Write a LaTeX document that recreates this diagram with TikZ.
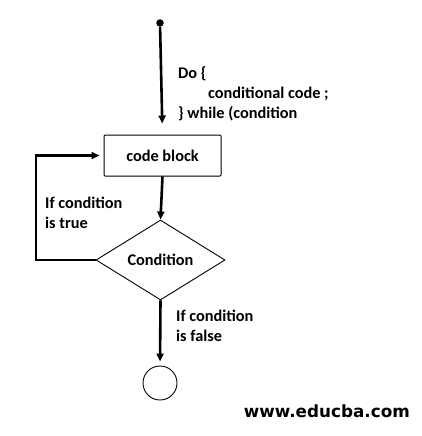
\documentclass[tikz,border=0pt]{standalone}
\usepackage{fontspec}
\setmainfont{Carlito}
\newfontfamily\urlfont{DejaVu Sans}
\usetikzlibrary{shapes.geometric,arrows.meta}
\tikzset{
    flow/.style = {draw=black, line width=2.6pt, -{Triangle[length=8pt,width=7pt]}},
    start-dot/.style = {circle, fill=black, inner sep=0pt, minimum size=7.5pt},
    code-box/.style = {draw=black, line width=1pt, rectangle, rounded corners=1pt, minimum width=117pt, minimum height=41pt, font=\fontsize{16.3}{20}\selectfont\bfseries},
    decision/.style = {draw=black, line width=0.9pt, diamond, inner sep=0pt, minimum width=129pt, minimum height=80pt, font=\fontsize{16.3}{20}\selectfont\bfseries},
    end-circle/.style = {draw=black, line width=0.9pt, circle, inner sep=0pt, minimum size=34pt},
    note/.style = {anchor=north west, inner sep=0pt, align=left, font=\fontsize{16.3}{20}\selectfont\bfseries},
}
\begin{document}
\begin{tikzpicture}[x=1pt,y=-1pt]
\useasboundingbox (0,0) rectangle (422,436);
\node[start-dot] (start) at (160,23) {};
\node[code-box] (code) at (162.5,155.5) {code block};
\node[decision] (cond) at (160.5,260) {Condition};
\node[end-circle] (stop) at (160,383) {};
\coordinate (loop) at (36,260);
% labels
\node[note] (dolabel) at (178,66) {Do \{\\\hspace*{30pt}conditional code ;\\\} while (condition};
\node[note] (truelabel) at (45,197) {If condition\\is true};
\node[note] (falselabel) at (176,310) {If condition\\is false};
\node[anchor=base east, inner sep=0pt, font=\fontsize{16.8}{18}\selectfont\urlfont\bfseries] (site) at (410,417) {www.educba.com};
% connectors
\draw[flow, shorten >=11pt] (start) -- (code.north);
\draw[flow] (code.south) -- (cond.north);
\draw[flow, shorten >=4pt] (cond.south) -- (stop.north);
\draw[flow, shorten >=4pt] (cond.west) -- (loop) |- (code.west);
\end{tikzpicture}
\end{document}
